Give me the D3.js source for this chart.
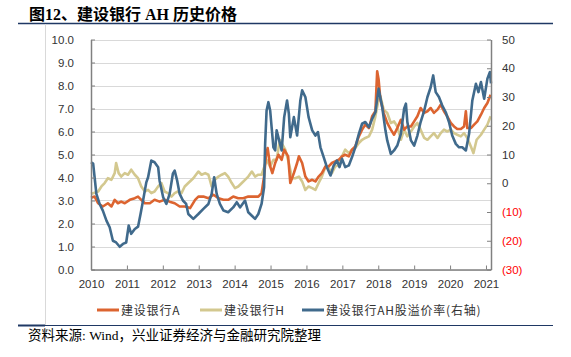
<!DOCTYPE html>
<html><head><meta charset="utf-8">
<script src="https://cdn.jsdelivr.net/npm/d3@7/dist/d3.min.js"></script>
<style>body{margin:0;background:#fff}</style>
</head><body><svg id="c" width="571" height="357"></svg>
<script>
const titleText = "图12、建设银行 AH 历史价格";
const sourceText = "资料来源: Wind，兴业证券经济与金融研究院整理";
const years = [2010,2011,2012,2013,2014,2015,2016,2017,2018,2019,2020,2021];
const leftTicks = [0,1,2,3,4,5,6,7,8,9,10];
const rightTicks = [-30,-20,-10,0,10,20,30,40,50];
const seriesNames = ["建设银行A","建设银行H","建设银行AH股溢价率(右轴)"];
const seriesColors = ["#dc6430","#d3c88f","#406a8c"];

// 建设银行A (left axis) : [decimal year, price]
const priceA = [[2010.00,3.12],[2010.10,3.17],[2010.20,2.88],[2010.33,2.74],[2010.47,2.88],[2010.57,2.74],[2010.66,3.03],[2010.75,2.88],[2010.84,2.95],[2010.94,2.88],[2011.08,3.03],[2011.22,3.10],[2011.31,3.17],[2011.40,3.03],[2011.50,2.88],[2011.64,2.88],[2011.77,3.03],[2011.91,2.95],[2012.05,3.03],[2012.19,2.95],[2012.33,2.88],[2012.47,2.74],[2012.62,2.74],[2012.76,2.67],[2012.90,3.03],[2012.99,3.17],[2013.13,3.17],[2013.27,3.10],[2013.41,3.25],[2013.55,3.10],[2013.69,3.03],[2013.82,3.03],[2013.96,3.17],[2014.10,3.10],[2014.24,3.10],[2014.38,3.17],[2014.52,3.17],[2014.66,3.17],[2014.75,3.32],[2014.82,4.04],[2014.87,4.92],[2014.92,5.28],[2014.99,4.48],[2015.05,4.19],[2015.13,4.63],[2015.22,4.99],[2015.31,4.77],[2015.38,5.21],[2015.49,4.92],[2015.55,3.76],[2015.65,4.19],[2015.74,4.63],[2015.79,4.92],[2015.88,4.63],[2015.97,4.04],[2016.06,3.83],[2016.16,3.90],[2016.25,3.83],[2016.34,4.04],[2016.43,4.19],[2016.53,4.48],[2016.62,4.48],[2016.71,4.63],[2016.80,4.70],[2016.90,4.77],[2016.99,4.92],[2017.08,4.99],[2017.18,4.92],[2017.27,5.21],[2017.36,5.35],[2017.46,5.79],[2017.55,6.08],[2017.64,6.30],[2017.74,6.15],[2017.83,6.66],[2017.92,6.88],[2017.97,8.62],[2018.01,8.26],[2018.06,7.39],[2018.15,6.81],[2018.25,6.37],[2018.35,6.08],[2018.44,5.86],[2018.53,6.15],[2018.63,6.51],[2018.72,6.08],[2018.81,6.22],[2018.91,6.22],[2019.00,6.44],[2019.09,6.66],[2019.18,7.02],[2019.28,6.81],[2019.37,6.88],[2019.46,7.02],[2019.55,6.81],[2019.65,6.95],[2019.74,7.17],[2019.83,6.88],[2019.92,6.66],[2020.02,6.37],[2020.11,6.22],[2020.20,6.11],[2020.30,6.11],[2020.39,6.22],[2020.44,6.88],[2020.48,6.15],[2020.58,6.15],[2020.67,6.30],[2020.76,6.44],[2020.86,6.73],[2020.95,7.02],[2021.04,7.24],[2021.13,7.60]];

// 建设银行H (left axis)
const priceH = [[2010.00,3.29],[2010.06,3.32],[2010.20,3.39],[2010.29,3.61],[2010.38,3.76],[2010.47,3.97],[2010.57,3.90],[2010.66,4.19],[2010.70,4.63],[2010.77,4.19],[2010.84,4.04],[2010.94,4.19],[2011.03,4.12],[2011.12,4.34],[2011.22,4.12],[2011.31,3.97],[2011.40,3.61],[2011.50,3.39],[2011.59,3.46],[2011.68,3.32],[2011.77,3.39],[2011.87,3.61],[2011.96,3.76],[2012.05,3.39],[2012.14,3.32],[2012.24,3.17],[2012.33,3.32],[2012.42,3.39],[2012.52,3.32],[2012.61,3.61],[2012.71,3.76],[2012.85,3.97],[2012.99,4.26],[2013.08,4.12],[2013.18,4.19],[2013.27,4.12],[2013.36,3.61],[2013.45,3.90],[2013.55,4.04],[2013.64,4.12],[2013.73,4.19],[2013.82,4.04],[2013.92,3.76],[2014.01,3.54],[2014.10,3.61],[2014.20,3.76],[2014.29,3.90],[2014.38,4.04],[2014.48,4.26],[2014.57,4.04],[2014.66,4.12],[2014.75,4.12],[2014.83,4.48],[2014.89,4.77],[2014.99,4.48],[2015.08,4.77],[2015.17,4.77],[2015.26,5.64],[2015.36,5.35],[2015.41,5.21],[2015.51,4.63],[2015.60,3.97],[2015.69,3.97],[2015.79,4.04],[2015.88,3.83],[2015.97,3.46],[2016.06,3.61],[2016.16,3.54],[2016.25,3.46],[2016.34,3.76],[2016.43,4.04],[2016.53,4.48],[2016.62,4.41],[2016.71,4.19],[2016.80,4.48],[2016.90,4.55],[2016.99,4.92],[2017.08,5.21],[2017.18,5.06],[2017.27,5.21],[2017.36,5.28],[2017.46,5.50],[2017.55,5.64],[2017.64,5.72],[2017.74,5.79],[2017.83,6.08],[2017.92,6.66],[2018.01,7.39],[2018.06,7.53],[2018.15,6.95],[2018.25,6.81],[2018.35,6.37],[2018.44,6.44],[2018.53,6.22],[2018.63,5.64],[2018.72,6.08],[2018.81,5.79],[2018.91,6.00],[2019.00,6.22],[2019.09,6.37],[2019.18,6.08],[2019.28,5.72],[2019.37,5.64],[2019.46,5.79],[2019.55,5.93],[2019.65,5.72],[2019.74,5.93],[2019.83,6.08],[2019.92,6.00],[2020.02,6.08],[2020.11,5.93],[2020.20,5.86],[2020.30,5.79],[2020.39,5.93],[2020.48,5.72],[2020.58,5.35],[2020.65,5.06],[2020.74,5.64],[2020.86,5.86],[2020.95,6.08],[2021.04,6.30],[2021.13,6.66]];

// 建设银行AH股溢价率 (right axis, %)
const premiumAH = [[2010.00,7.3],[2010.06,6.8],[2010.15,-3.7],[2010.24,-7.2],[2010.33,-9.5],[2010.43,-13.0],[2010.52,-15.3],[2010.61,-20.0],[2010.70,-20.6],[2010.80,-22.1],[2010.89,-21.1],[2010.98,-20.6],[2011.05,-14.7],[2011.12,-17.6],[2011.22,-15.9],[2011.31,-15.1],[2011.38,-10.7],[2011.45,-6.0],[2011.54,0.3],[2011.59,2.1],[2011.68,7.9],[2011.77,7.3],[2011.87,5.6],[2011.91,0.9],[2012.01,-4.9],[2012.10,-7.2],[2012.19,-3.7],[2012.28,3.3],[2012.33,4.4],[2012.40,0.9],[2012.47,-3.7],[2012.56,-6.0],[2012.65,-7.2],[2012.71,-10.7],[2012.85,-12.4],[2012.99,-10.7],[2013.13,-8.9],[2013.27,-7.2],[2013.36,-3.7],[2013.43,2.1],[2013.50,-3.7],[2013.59,-7.2],[2013.69,-9.5],[2013.82,-10.1],[2013.96,-8.4],[2014.06,-6.6],[2014.15,-8.4],[2014.29,-6.0],[2014.38,-10.1],[2014.48,-11.3],[2014.57,-12.4],[2014.66,-10.7],[2014.75,-7.2],[2014.82,-1.4],[2014.85,13.7],[2014.89,25.3],[2014.94,28.2],[2014.99,25.3],[2015.03,19.5],[2015.08,12.5],[2015.13,11.4],[2015.17,18.4],[2015.24,14.9],[2015.31,11.4],[2015.38,23.0],[2015.46,28.8],[2015.51,24.2],[2015.55,16.0],[2015.65,23.0],[2015.74,16.6],[2015.83,28.8],[2015.88,32.3],[2015.97,30.0],[2016.06,23.0],[2016.16,18.4],[2016.25,16.6],[2016.32,17.8],[2016.39,12.5],[2016.48,9.1],[2016.57,5.6],[2016.67,2.7],[2016.76,6.2],[2016.85,7.9],[2016.92,5.6],[2016.99,8.5],[2017.08,5.6],[2017.18,6.2],[2017.27,9.1],[2017.36,12.5],[2017.46,17.2],[2017.55,20.7],[2017.64,21.3],[2017.74,19.5],[2017.83,22.4],[2017.92,24.7],[2018.01,32.9],[2018.11,26.5],[2018.20,18.4],[2018.25,14.9],[2018.35,10.2],[2018.44,11.4],[2018.53,13.1],[2018.63,17.2],[2018.72,25.9],[2018.77,27.7],[2018.81,21.3],[2018.91,14.9],[2019.00,13.1],[2019.09,16.6],[2019.18,21.3],[2019.28,25.3],[2019.37,30.0],[2019.46,33.4],[2019.53,37.5],[2019.60,31.7],[2019.69,30.0],[2019.78,27.1],[2019.88,24.7],[2019.97,21.3],[2020.06,16.6],[2020.16,13.7],[2020.25,12.5],[2020.34,12.5],[2020.44,11.4],[2020.53,17.2],[2020.62,28.8],[2020.72,34.6],[2020.79,31.7],[2020.86,35.2],[2020.95,29.4],[2021.04,36.4],[2021.11,38.7],[2021.14,34.7]];

const svg = d3.select("#c");
const X0 = 91, X1 = 491, Y0 = 269.5, Y1 = 39.5;
const x = d3.scaleLinear().domain([2010, 2021.14]).range([X0, X1]);
const yL = d3.scaleLinear().domain([0, 10]).range([Y0, Y1]);
const yR = d3.scaleLinear().domain([-30, 50]).range([Y0, Y1]);

// title
svg.append("text").attr("x", 29).attr("y", 19.5)
  .attr("font-family", "'Liberation Serif','Noto Sans CJK SC',serif")
  .attr("font-weight", "bold").attr("font-size", 16).attr("fill", "#000")
  .text(titleText);
svg.append("line").attr("x1", 18).attr("x2", 553).attr("y1", 23.5).attr("y2", 23.5)
  .attr("stroke", "#1f3864").attr("stroke-width", 1.5);
svg.append("line").attr("x1", 45.5).attr("x2", 45.5).attr("y1", 24).attr("y2", 325)
  .attr("stroke", "#d9d9d9").attr("stroke-width", 1);
svg.append("line").attr("x1", 18).attr("x2", 553).attr("y1", 325.5).attr("y2", 325.5)
  .attr("stroke", "#1f3864").attr("stroke-width", 1);
svg.append("line").attr("x1", 18).attr("x2", 45).attr("y1", 325.5).attr("y2", 325.5)
  .attr("stroke", "#1f3864").attr("stroke-width", 2);

// gridlines
svg.append("g").selectAll("line").data(leftTicks).join("line")
  .attr("x1", X0).attr("x2", X1)
  .attr("y1", d => Math.round(yL(d)) + 0.5).attr("y2", d => Math.round(yL(d)) + 0.5)
  .attr("stroke", "#d9d9d9").attr("stroke-width", 1);

// series
const lineL = d3.line().x(d => x(d[0])).y(d => yL(d[1]));
const lineR = d3.line().x(d => x(d[0])).y(d => yR(d[1]));
const drawn = [[priceH, lineL, 1], [priceA, lineL, 0], [premiumAH, lineR, 2]];
drawn.forEach(([data, gen, i]) => {
  svg.append("path").datum(data).attr("d", gen)
    .attr("fill", "none").attr("stroke", seriesColors[i])
    .attr("stroke-width", 2.6).attr("stroke-linejoin", "round");
});

// axes
const axisFont = "'Liberation Sans',Arial,sans-serif";
const gL = svg.append("g").attr("transform", `translate(${X0},0)`)
  .call(d3.axisLeft(yL).tickValues(leftTicks).tickFormat(d3.format(".1f")).tickSize(-4).tickSizeOuter(0).tickPadding(17));
const gR = svg.append("g").attr("transform", `translate(${X1},0)`)
  .call(d3.axisRight(yR).tickValues(rightTicks).tickFormat(d => d < 0 ? `(${-d})` : d).tickSize(-4).tickSizeOuter(0).tickPadding(11));
const gB = svg.append("g").attr("transform", `translate(0,${Y0})`)
  .call(d3.axisBottom(x).tickValues(years).tickFormat(d3.format("d")).tickSize(-4).tickSizeOuter(0).tickPadding(10));
[gL, gR, gB].forEach(g => {
  g.select(".domain").attr("stroke", "#808080").attr("stroke-width", 1.5);
  g.selectAll(".tick line").attr("stroke", "#808080").attr("stroke-width", 1);
  g.selectAll("text").attr("font-family", axisFont).attr("font-size", 11.5).attr("fill", "#333");
});
gR.selectAll(".tick text").attr("fill", d => d < 0 ? "#ff0000" : "#333");

// legend
const legX = [97, 200, 302];
const leg = svg.append("g");
seriesNames.forEach((name, i) => {
  leg.append("line").attr("x1", legX[i]).attr("x2", legX[i] + 22)
    .attr("y1", 310).attr("y2", 310).attr("stroke", seriesColors[i]).attr("stroke-width", 3);
  leg.append("text").attr("x", legX[i] + 24).attr("y", 314.5)
    .attr("font-family", "'Noto Sans CJK SC',sans-serif").attr("font-size", 12)
    .attr("letter-spacing", 0.8).attr("fill", "#333").text(name);
});

// source
svg.append("text").attr("x", 28).attr("y", 340)
  .attr("font-family", "'Liberation Serif','Noto Sans CJK SC',serif")
  .attr("font-size", 13.5).attr("fill", "#000").text(sourceText);
</script>
</body></html>
